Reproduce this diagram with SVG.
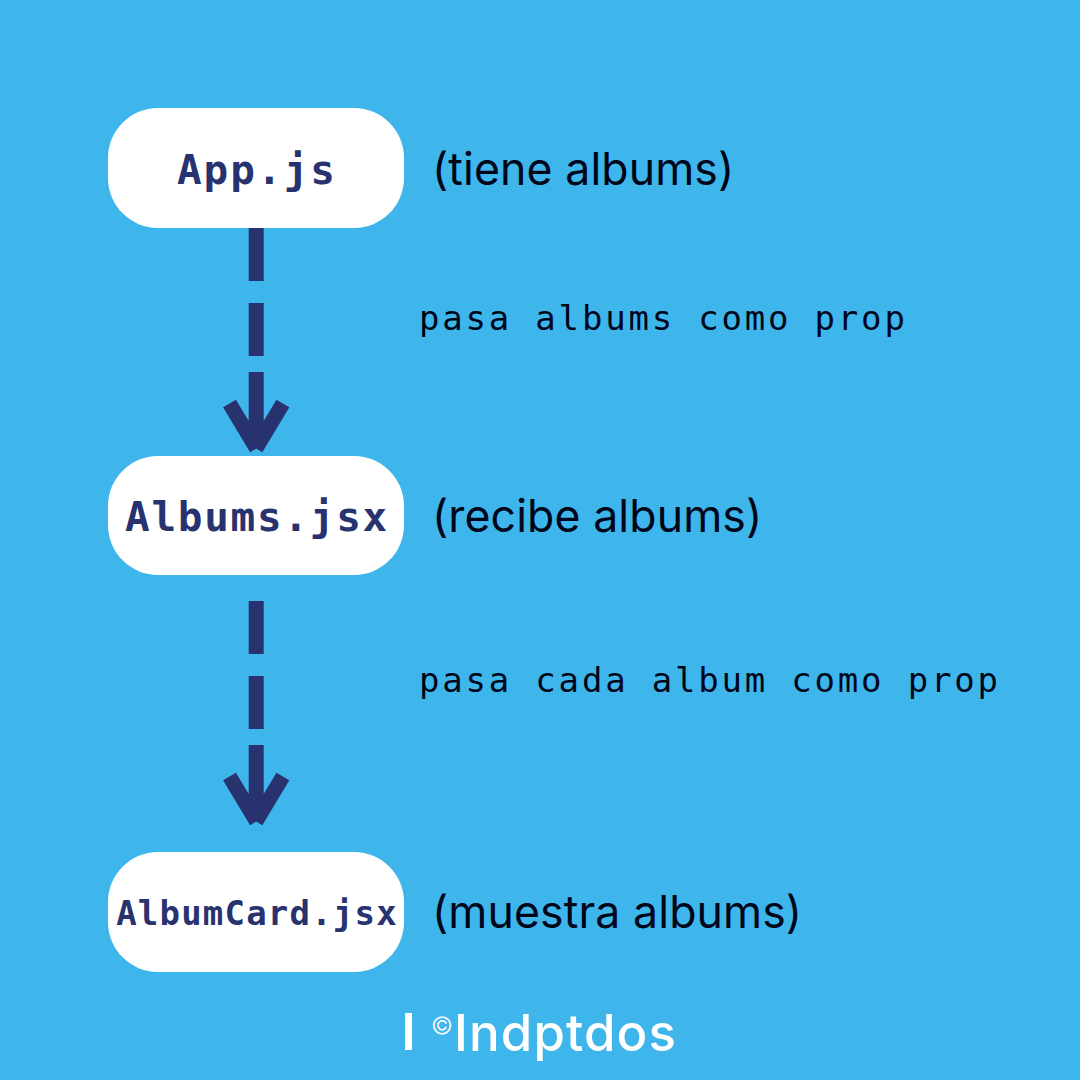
<svg xmlns="http://www.w3.org/2000/svg" width="1080" height="1080" viewBox="0 0 1080 1080">
<style>
.n{fill:#fff}
.t{font-family:"DejaVu Sans Mono","Liberation Mono",monospace;font-weight:700;fill:#27326f;text-anchor:middle}
.s{font-family:Inter,"Open Sans",sans-serif;font-size:44.6px;fill:#00061a;letter-spacing:0.1px}
.m{font-family:"DejaVu Sans Mono","Liberation Mono",monospace;font-size:34px;fill:#00061a;letter-spacing:2.8px}
.c{stroke:#27326f;stroke-width:15;fill:none}
</style>
<rect width="1080" height="1080" fill="#3eb6ec"/>
<g id="connectors">
<path class="c" d="M256.2 228V281M256.2 303V356M256.2 372V445M229.5 403.5L256.5 448.5M282.9 403.5L255.9 448.5"/>
<path class="c" d="M256.2 601V654M256.2 676V729M256.2 745V818M229.5 776.5L256.5 821.5M282.9 776.5L255.9 821.5"/>
</g>
<g id="app"><rect class="n" x="108" y="108" width="296" height="120" rx="50"/><text class="t" x="257" y="184" font-size="41" letter-spacing="2">App.js</text></g>
<g id="albums"><rect class="n" x="108" y="456" width="296" height="119" rx="50"/><text class="t" x="257" y="531" font-size="41" letter-spacing="1.7">Albums.jsx</text></g>
<g id="albumcard"><rect class="n" x="108" y="852" width="296" height="120" rx="50"/><text class="t" x="257" y="925" font-size="34" letter-spacing="1.2">AlbumCard.jsx</text></g>
<text class="s" x="432" y="184.5">(tiene albums)</text>
<text class="s" x="432" y="531.5">(recibe albums)</text>
<text class="s" x="432" y="927.5">(muestra albums)</text>
<text class="m" x="419" y="330">pasa albums como prop</text>
<text class="m" x="419" y="692">pasa cada album como prop</text>
<rect x="405" y="1013" width="7" height="37" fill="#fff"/>
<text x="431" y="1034" font-family="Inter,sans-serif" font-size="24" font-weight="300" fill="#fff">©</text>
<text x="454" y="1050.5" font-family="Inter,sans-serif" font-size="51" font-weight="500" letter-spacing="1.1" fill="#fff">Indptdos</text>
</svg>
